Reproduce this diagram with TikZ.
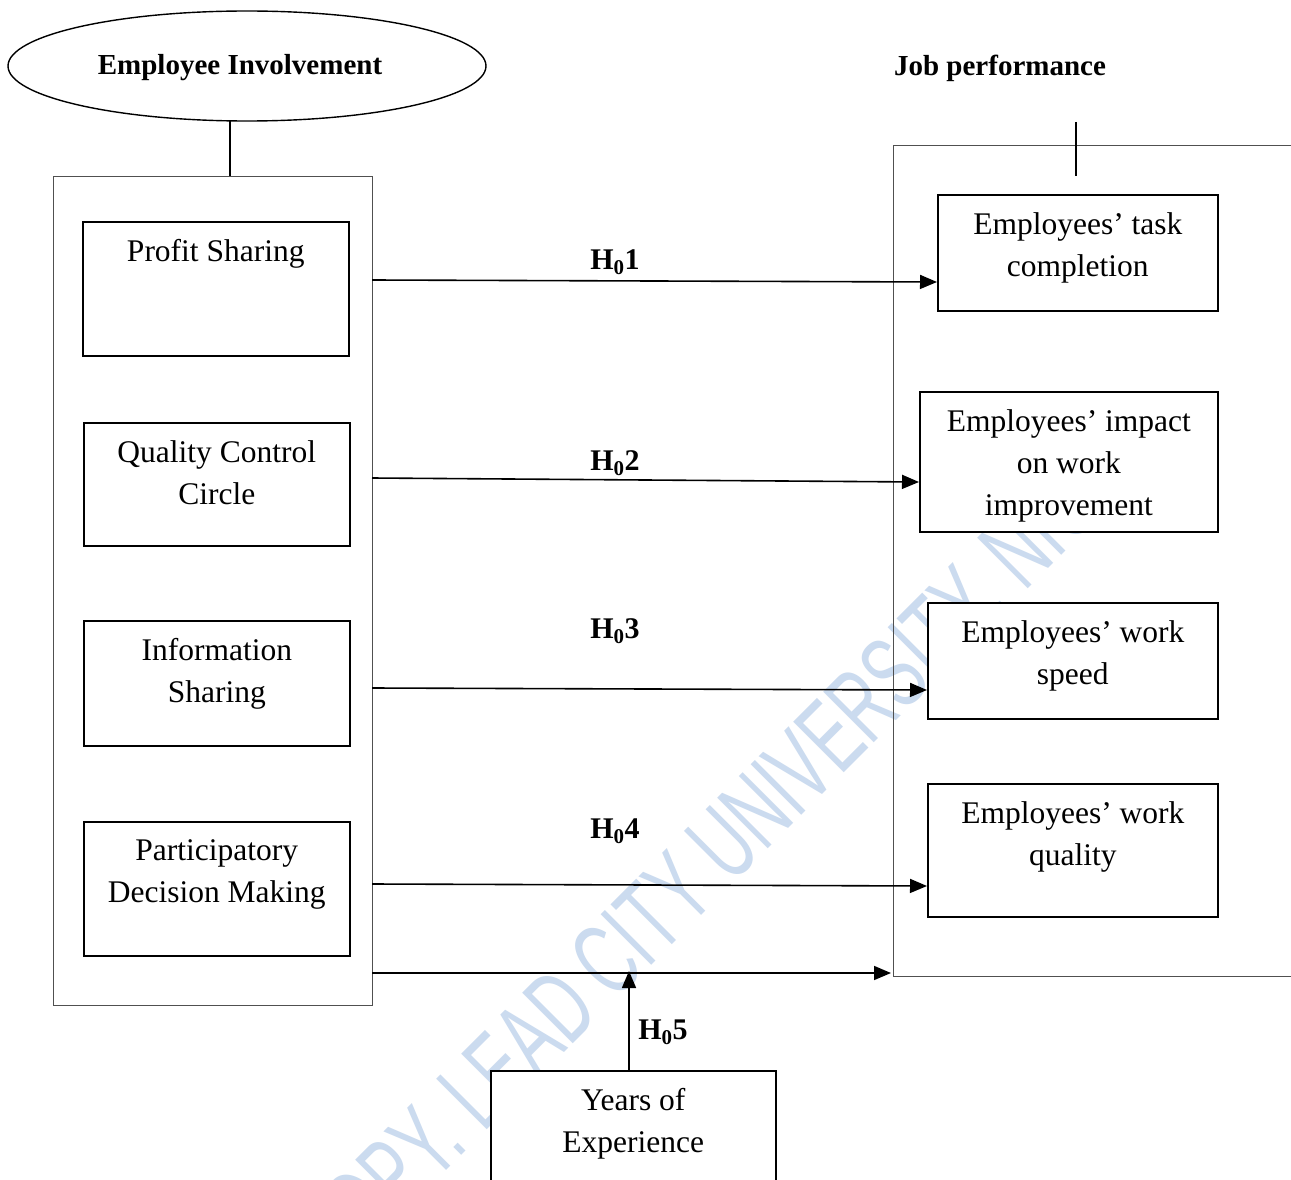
\documentclass[tikz,border=0pt]{standalone}
\usepackage{fontspec}
\setmainfont{Liberation Serif}
\newfontfamily\wmfont{Liberation Sans}
\usetikzlibrary{shapes.geometric,arrows.meta}
\definecolor{wmblue}{RGB}{203,219,239}
\definecolor{framegray}{RGB}{80,80,80}
\begin{document}
\begin{tikzpicture}[x=1pt,y=-1pt,
  ibox/.style={draw=black, line width=1.6pt, fill=white, anchor=north west, inner sep=0pt},
  bigbox/.style={draw=framegray, line width=1.4pt, anchor=north west, inner sep=0pt},
  itext/.style={anchor=north, align=center, inner sep=0pt,
    font=\fontsize{31.5}{42}\selectfont},
  title/.style={inner sep=0pt, font=\fontsize{29}{34}\selectfont\bfseries},
  hlab/.style={inner sep=0pt, font=\fontsize{30}{34}\selectfont\bfseries},
  conn/.style={line width=1.6pt},
  arr/.style={line width=1.6pt, -{Triangle[length=17pt,width=14pt]}}]
\clip (0,0) rectangle (1291,1180);
\fill[white] (0,0) rectangle (1291,1180);
% watermark
\node[text=wmblue, rotate=45, xscale=0.62, inner sep=0pt, font=\fontsize{104}{104}\selectfont\wmfont] (wm) at (699,876) {COPY. LEAD CITY UNIVERSITY, NIG};
% ellipse and titles
\node[draw, ellipse, line width=1.4pt, minimum width=478pt, minimum height=110pt, inner sep=0pt] (ei) at (247,66) {};
\node[title] (eit) at (240,68) {Employee Involvement};
\node[title] (jpt) at (1000,68) {Job performance};
% big boxes
\node[bigbox, minimum width=319pt, minimum height=829pt] (L) at (53,176) {};
\node[bigbox, minimum width=420pt, minimum height=831pt] (R) at (893,145) {};
% connectors to title
\coordinate (ea) at (230,121);
\coordinate (eb) at (230,176);
\draw[conn] (ea) -- (eb);
\coordinate (ja) at (1076,122);
\coordinate (jb) at (1076,176);
\draw[conn] (ja) -- (jb);
% left inner boxes
\node[ibox, minimum width=266pt, minimum height=134pt] (ps) at (82,221) {};
\node[itext] (pst) at ([yshift=-18pt]ps.north) {Profit Sharing};
\node[ibox, minimum width=266pt, minimum height=123pt] (qc) at (83,422) {};
\node[itext] (qct) at ([yshift=-18pt]qc.north) {Quality Control\\Circle};
\node[ibox, minimum width=266pt, minimum height=125pt] (is) at (83,620) {};
\node[itext] (ist) at ([yshift=-18pt]is.north) {Information\\Sharing};
\node[ibox, minimum width=266pt, minimum height=134pt] (pd) at (83,821) {};
\node[itext] (pdt) at ([yshift=-18pt]pd.north) {Participatory\\Decision Making};
% right inner boxes
\node[ibox, minimum width=280pt, minimum height=116pt] (tc) at (937,194) {};
\node[itext] (tct) at ([yshift=-18pt]tc.north) {Employees’ task\\completion};
\node[ibox, minimum width=298pt, minimum height=140pt] (wi) at (919,391) {};
\node[itext] (wit) at ([yshift=-18pt]wi.north) {Employees’ impact\\on work\\improvement};
\node[ibox, minimum width=290pt, minimum height=116pt] (ws) at (927,602) {};
\node[itext] (wst) at ([yshift=-18pt]ws.north) {Employees’ work\\speed};
\node[ibox, minimum width=290pt, minimum height=133pt] (wq) at (927,783) {};
\node[itext] (wqt) at ([yshift=-18pt]wq.north) {Employees’ work\\quality};
% years box
\node[ibox, minimum width=285pt, minimum height=130pt] (ye) at (490,1070) {};
\node[itext] (yet) at ([yshift=-18pt]ye.north) {Years of\\Experience};
% arrows
\coordinate (s1) at (372,280);  \coordinate (e1) at (937,282);
\coordinate (s2) at (372,478);  \coordinate (e2) at (919,482);
\coordinate (s3) at (372,688);  \coordinate (e3) at (927,690);
\coordinate (s4) at (372,884);  \coordinate (e4) at (927,886);
\coordinate (s5) at (372,973);  \coordinate (e5) at (891,973);
\coordinate (m5) at (629,971);
\draw[arr] (s1) -- (e1);
\draw[arr] (s2) -- (e2);
\draw[arr] (s3) -- (e3);
\draw[arr] (s4) -- (e4);
\draw[arr] (s5) -- (e5);
\draw[arr] (ye.north -| m5) -- (m5);
% hypothesis labels
\node[hlab] (h1) at (615,262) {H\textsubscript{0}1};
\node[hlab] (h2) at (615,463) {H\textsubscript{0}2};
\node[hlab] (h3) at (615,631) {H\textsubscript{0}3};
\node[hlab] (h4) at (615,831) {H\textsubscript{0}4};
\node[hlab] (h5) at (663,1032) {H\textsubscript{0}5};
\end{tikzpicture}
\end{document}
